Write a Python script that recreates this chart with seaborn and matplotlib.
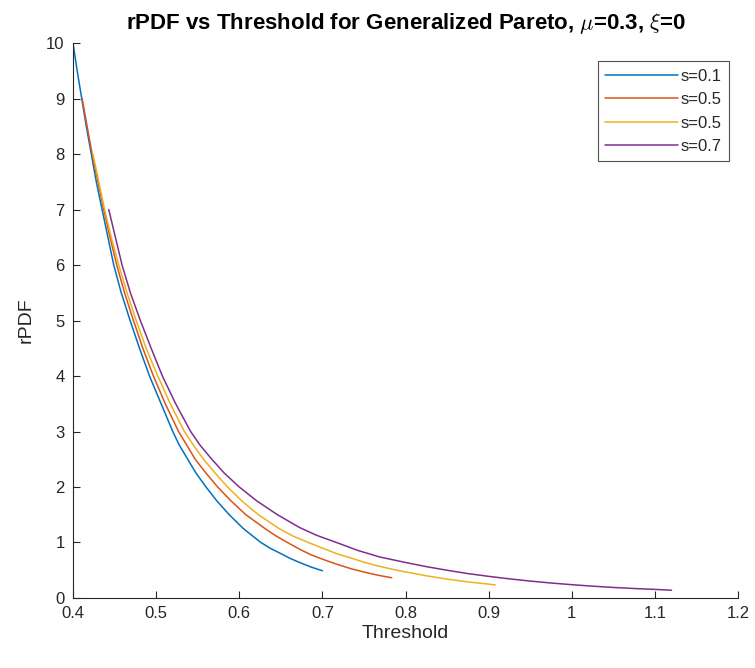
import numpy as np
import pandas as pd
import matplotlib
matplotlib.use('Agg')
import matplotlib.pyplot as plt
import seaborn as sns

sns.set_style('white')
plt.rcParams['font.family'] = ['Liberation Sans', 'DejaVu Sans']
plt.rcParams['mathtext.fontset'] = 'cm'

# values
labels = ['s=0.1', 's=0.5', 's=0.5', 's=0.7']
colors = ['#0072BD', '#D95319', '#EDB120', '#7E2F8E']

x_s01 = [0.400, 0.405, 0.4105, 0.416, 0.422, 0.428, 0.435, 0.442, 0.449, 0.458,
         0.4687, 0.480, 0.492, 0.506, 0.520, 0.528, 0.538, 0.548, 0.560, 0.573,
         0.588, 0.605, 0.615, 0.626, 0.638, 0.650, 0.661, 0.6725, 0.686, 0.700]
y_s01 = [10, 9.5, 9, 8.5, 8, 7.5, 7, 6.5, 6, 5.5,
         5, 4.5, 4, 3.5, 3, 2.75, 2.5, 2.25, 2, 1.75,
         1.5, 1.25, 1.13, 1, 0.89, 0.80, 0.715, 0.64, 0.56, 0.49]

x_s05a = [0.411, 0.417, 0.423, 0.430, 0.437, 0.4445, 0.4526, 0.462, 0.4727, 0.484,
          0.4967, 0.511, 0.527, 0.537, 0.547, 0.560, 0.574, 0.590, 0.608, 0.631,
          0.644, 0.658, 0.6725, 0.686, 0.700, 0.717, 0.735, 0.752, 0.7687, 0.7835]
y_s05a = [9, 8.5, 8, 7.5, 7, 6.5, 6, 5.5, 5, 4.5,
          4, 3.5, 3, 2.75, 2.5, 2.25, 2, 1.75, 1.5, 1.25,
          1.12, 1, 0.88, 0.78, 0.70, 0.61, 0.525, 0.46, 0.405, 0.365]

x_s05b = [0.424, 0.431, 0.438, 0.446, 0.455, 0.465, 0.476, 0.488, 0.502, 0.517,
          0.534, 0.545, 0.557, 0.571, 0.586, 0.603, 0.623, 0.648, 0.664, 0.683,
          0.700, 0.717, 0.7345, 0.751, 0.7687, 0.785, 0.800, 0.825, 0.850, 0.875,
          0.900, 0.908]
y_s05b = [8, 7.5, 7, 6.5, 6, 5.5, 5, 4.5, 4, 3.5,
          3, 2.75, 2.5, 2.25, 2, 1.75, 1.5, 1.25, 1.12, 1,
          0.90, 0.80, 0.72, 0.64, 0.571, 0.515, 0.47, 0.40, 0.34, 0.29,
          0.25, 0.235]

x_s07 = [0.443, 0.451, 0.459, 0.469, 0.481, 0.494, 0.5075, 0.5235, 0.5415, 0.553,
         0.567, 0.582, 0.600, 0.621, 0.646, 0.6725, 0.693, 0.717, 0.742, 0.7687,
         0.800, 0.825, 0.850, 0.875, 0.900, 0.925, 0.950, 0.975, 1.000, 1.025,
         1.050, 1.075, 1.100, 1.120]
y_s07 = [7, 6.5, 6, 5.5, 5, 4.5, 4, 3.5, 3, 2.75,
         2.5, 2.25, 2, 1.75, 1.5, 1.27, 1.13, 1, 0.86, 0.74,
         0.64, 0.565, 0.50, 0.44, 0.39, 0.345, 0.305, 0.27, 0.24, 0.213,
         0.19, 0.171, 0.155, 0.14]

x_ticks = [0.4, 0.5, 0.6, 0.7, 0.8, 0.9, 1.0, 1.1, 1.2]
x_ticklabels = ['0.4', '0.5', '0.6', '0.7', '0.8', '0.9', '1', '1.1', '1.2']
y_ticks = list(range(0, 11))

series = [(x_s01, y_s01), (x_s05a, y_s05a), (x_s05b, y_s05b), (x_s07, y_s07)]

fig = plt.figure(figsize=(7.55, 6.68), dpi=100)
ax = fig.add_axes([0.0967, 0.1048, 0.8808, 0.8308])

for (xs, ys), lab, col in zip(series, labels, colors):
    sns.lineplot(x=xs, y=ys, ax=ax, color=col, label=lab, linewidth=1.1,
                 sort=False, estimator=None)

ax.set_xlim(0.4, 1.2)
ax.set_ylim(0, 10)
ax.set_xticks(x_ticks)
ax.set_xticklabels(x_ticklabels)
ax.set_yticks(y_ticks)

for side in ['top', 'right']:
    ax.spines[side].set_visible(False)
for side in ['left', 'bottom']:
    ax.spines[side].set_color('#262626')
    ax.spines[side].set_linewidth(0.8)

ax.tick_params(bottom=True, left=True, direction='in', length=5, width=0.8,
               colors='#262626', labelsize=12, labelcolor='#262626', pad=6)

ax.set_xlabel('Threshold', fontsize=14, color='#262626', labelpad=3)
ax.set_ylabel('rPDF', fontsize=14, color='#262626', labelpad=8)
ax.set_title(r'rPDF vs Threshold for Generalized Pareto, $\mu$=0.3, $\xi$=0',
             fontsize=16, fontweight='bold', color='black', pad=10)

leg = ax.legend(loc='upper right', bbox_to_anchor=(0.987, 0.967), fontsize=12,
                handlelength=4.4, handletextpad=0.15, labelspacing=0.5,
                borderpad=0.45, borderaxespad=0.0, fancybox=False, frameon=True)
leg.get_frame().set_edgecolor('#262626')
leg.get_frame().set_linewidth(0.8)
for line in leg.get_lines():
    line.set_linewidth(1.1)

fig.savefig('out.png', dpi=100)
